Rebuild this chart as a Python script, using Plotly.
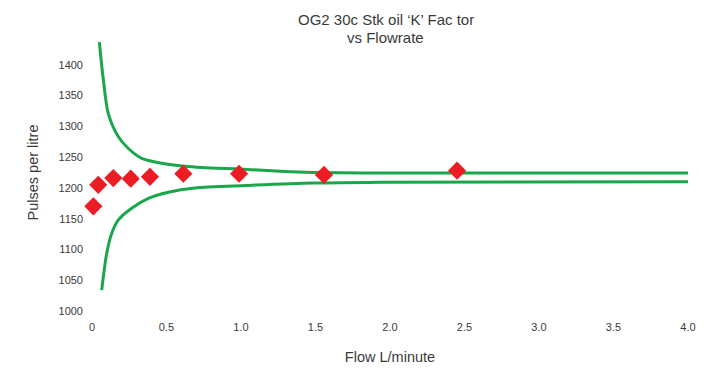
import plotly.graph_objects as go

# Measured K-factor points
flow = [0.009, 0.042, 0.143, 0.26, 0.389, 0.613, 0.987, 1.557, 2.45]
pulses = [1170, 1205, 1216, 1215, 1218, 1223, 1223, 1221, 1228]

# Upper tolerance curve
upper_x = [0.049, 0.076, 0.109, 0.177, 0.244, 0.334, 0.468, 0.624, 0.736, 1.038, 1.262, 1.485, 1.933, 4.0]
upper_y = [1437, 1376, 1321, 1283, 1264, 1248, 1240, 1235, 1233, 1230, 1227, 1225, 1224, 1224]

# Lower tolerance curve
lower_x = [0.065, 0.099, 0.132, 0.177, 0.266, 0.378, 0.512, 0.691, 1.038, 1.483, 1.933, 4.0]
lower_y = [1034, 1094, 1126, 1148, 1167, 1183, 1193, 1200, 1204, 1208, 1209, 1210]

x_ticks = [0, 0.5, 1.0, 1.5, 2.0, 2.5, 3.0, 3.5, 4.0]
x_tick_labels = ["0", "0.5", "1.0", "1.5", "2.0", "2.5", "3.0", "3.5", "4.0"]
y_ticks = [1000, 1050, 1100, 1150, 1200, 1250, 1300, 1350, 1400]

title_lines = ["OG2 30c Stk oil \u2018K\u2019 Fac tor", "vs Flowrate"]

green = "#1aa64a"
red = "#ec1c24"
text_col = "#3a3a3a"
font = "Liberation Sans, Arial, sans-serif"

fig = go.Figure()
fig.add_trace(go.Scatter(x=upper_x, y=upper_y, mode="lines",
                         line=dict(color=green, width=3, shape="spline", smoothing=0.8),
                         showlegend=False, hoverinfo="skip"))
fig.add_trace(go.Scatter(x=lower_x, y=lower_y, mode="lines",
                         line=dict(color=green, width=3, shape="spline", smoothing=0.8),
                         showlegend=False, hoverinfo="skip"))
fig.add_trace(go.Scatter(x=flow, y=pulses, mode="markers", cliponaxis=False,
                         marker=dict(symbol="diamond", size=14, color=red),
                         showlegend=False))

# title lines (plot area spans 277 px vertically, top at 34 px)
for line, ypx in zip(title_lines, [20, 37.5]):
    fig.add_annotation(text=line, xref="paper", yref="paper",
                       x=0.493, y=(311 - ypx) / 277, xanchor="center", yanchor="middle",
                       showarrow=False, align="center",
                       font=dict(family=font, size=15, color=text_col))

fig.update_layout(
    template="simple_white",
    width=723, height=376,
    margin=dict(l=92, r=35, t=34, b=65),
    paper_bgcolor="white", plot_bgcolor="white",
    font=dict(family=font, size=11, color=text_col),
    xaxis=dict(range=[0, 4.0], tickvals=x_ticks, ticktext=x_tick_labels,
               showgrid=False, zeroline=False, showline=False, ticks="",
               automargin=False,
               ticklabelstandoff=8, tickfont=dict(family=font, size=11, color=text_col),
               title=dict(text="Flow L/minute", font=dict(family=font, size=14.5, color=text_col),
                          standoff=19)),
    yaxis=dict(range=[1000, 1450], tickvals=y_ticks,
               showgrid=False, zeroline=False, showline=False, ticks="",
               automargin=False,
               ticklabelstandoff=8, tickfont=dict(family=font, size=11, color=text_col),
               title=dict(text="Pulses per litre", font=dict(family=font, size=14.5, color=text_col),
                          standoff=16)),
)

fig.write_html("out.html", config={"displayModeBar": False},
               post_script="document.body.style.margin='0px';document.body.style.padding='0px';")
